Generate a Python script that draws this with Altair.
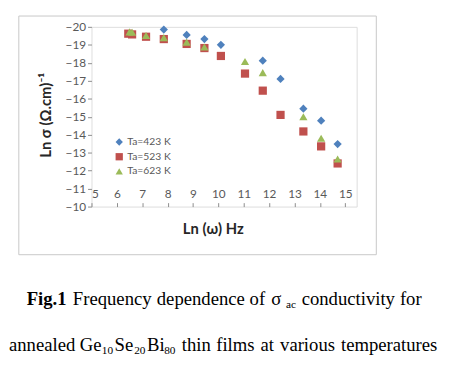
import altair as alt
import pandas as pd

# ---- data ----
series_names = ["Ta=423 K", "Ta=523 K", "Ta=623 K"]

x_423 = [7.85, 8.75, 9.45, 10.1, 11.75, 12.45, 13.35, 14.05, 14.7]
y_423 = [-19.85, -19.55, -19.32, -19.0, -18.12, -17.1, -15.45, -14.78, -13.48]

x_523 = [6.45, 6.6, 7.15, 7.85, 8.75, 9.45, 10.1, 11.05, 11.75, 12.45, 13.35, 14.05, 14.7]
y_523 = [-19.62, -19.58, -19.45, -19.32, -19.05, -18.82, -18.38, -17.4, -16.45, -15.1, -14.18, -13.35, -12.4]

x_623 = [6.5, 6.6, 7.15, 7.85, 8.75, 9.45, 11.05, 11.75, 13.35, 14.05, 14.7]
y_623 = [-19.72, -19.7, -19.52, -19.4, -19.15, -18.88, -18.07, -17.45, -15.0, -13.8, -12.65]

x_ticks = [5, 6, 7, 8, 9, 10, 11, 12, 13, 14, 15]
y_ticks = [-20, -19, -18, -17, -16, -15, -14, -13, -12, -11, -10]

rows = []
for name, xs, ys in zip(series_names, [x_423, x_523, x_623], [y_423, y_523, y_623]):
    for a, b in zip(xs, ys):
        rows.append({"series": name, "x": a, "y": b})
df = pd.DataFrame(rows)

W, H = 270, 183
AX = "Lato"

points = alt.Chart(df).mark_point(filled=True, opacity=1, size=70).encode(
    x=alt.X("x:Q", scale=alt.Scale(domain=[5, 15.45], nice=False, zero=False),
            axis=alt.Axis(orient="top", offset=-H, values=x_ticks, format="d", title=None,
                          grid=False, domain=False, tickSize=4, tickColor="#8c8c8c",
                          labelPadding=9, labelBaseline="middle", labelFont=AX,
                          labelFontSize=12, labelColor="#595959")),
    y=alt.Y("y:Q", scale=alt.Scale(domain=[-20, -10], reverse=True, nice=False, zero=False),
            axis=alt.Axis(values=y_ticks, format="d", title="Ln σ (Ω.cm)⁻¹", grid=False,
                          domain=False, tickSize=4, tickColor="#8c8c8c", labelPadding=2,
                          labelFont=AX, labelFontSize=12, labelColor="#595959",
                          titleFont=AX, titleFontSize=15, titleFontWeight="bold",
                          titleColor="#262626", titleX=-39, titleY=H / 2 - 2, titleAngle=270)),
    color=alt.Color("series:N", scale=alt.Scale(domain=series_names,
                                                range=["#4f81bd", "#c0504d", "#9bbb59"]),
                    legend=alt.Legend(title=None, orient="none", legendX=23, legendY=112,
                                      labelFont=AX, labelFontSize=10.5, labelColor="#595959",
                                      symbolSize=55, rowPadding=4, labelOffset=3,
                                      symbolStrokeWidth=0)),
    shape=alt.Shape("series:N", scale=alt.Scale(domain=series_names,
                                                range=["diamond", "square", "triangle-up"]),
                    legend=None),
    order=alt.Order("series:N"),
)

frame = alt.Chart(pd.DataFrame({"a": [0]})).mark_rect(
    fill="white", fillOpacity=0, stroke="#c8c8c8", strokeWidth=1
).encode(x=alt.value(-74), x2=alt.value(290), y=alt.value(-11), y2=alt.value(232))

xtitle = alt.Chart(pd.DataFrame({"t": ["Ln (ω) Hz"]})).mark_text(
    font=AX, fontSize=15, fontWeight="bold", color="#262626", align="center", baseline="middle"
).encode(text="t:N", x=alt.value(124), y=alt.value(206))

# caption pieces (justified text, so each word placed): text, x, y(baseline), size, weight
B1, B2 = 283.5, 330
cap_text = ["Fig.1", "Frequency", "dependence", "of", "σ", "ac", "conductivity", "for",
            "annealed", "Ge", "10", "Se", "20", "Bi", "80",
            "thin", "films", "at", "various", "temperatures"]
cap_x = [-66, -19, 66.5, 161, 183, 198, 214, 314,
         -84, -12, 10.5, 23.5, 43.5, 56.5, 74,
         92, 127, 172, 192, 254]
cap_y = [B1, B1, B1, B1, B1, B1 + 3, B1, B1,
         B2, B2, B2 + 3.5, B2, B2 + 3.5, B2, B2 + 3.5,
         B2, B2, B2, B2, B2]
cap_size = [19, 19, 19, 19, 19, 11.5, 19, 19,
            19, 19, 11.5, 19, 11.5, 19, 11.5,
            19, 19, 19, 19, 19]
cap_weight = ["bold"] + ["normal"] * 19

caps = []
for t, cx, cy, cs, cw in zip(cap_text, cap_x, cap_y, cap_size, cap_weight):
    caps.append(alt.Chart(pd.DataFrame({"t": [t]})).mark_text(
        font="Liberation Serif", fontSize=cs, fontWeight=cw, color="black",
        align="left", baseline="alphabetic"
    ).encode(text="t:N", x=alt.value(cx), y=alt.value(cy)))

chart = alt.layer(frame, points, xtitle, *caps).properties(
    width=W, height=H,
    padding={"left": 85, "top": 16, "right": 93, "bottom": 152},
    autosize=alt.AutoSizeParams(type="none"),
).configure_view(stroke="#8c8c8c", strokeWidth=1).configure(background="white")

chart.save("out.html", embed_options={"renderer": "svg", "actions": False})
